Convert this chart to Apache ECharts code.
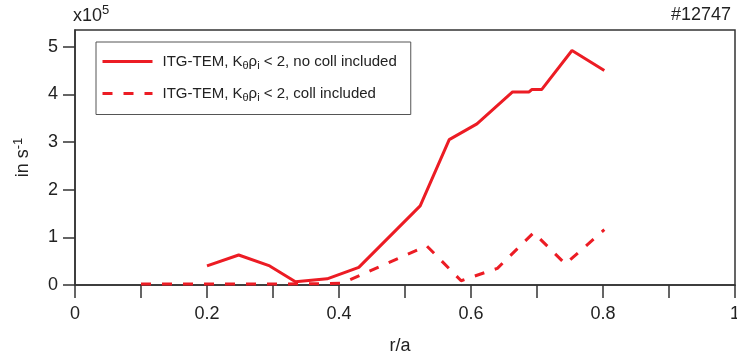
<!DOCTYPE html>
<html>
<head>
<meta charset="utf-8">
<script src="https://cdn.jsdelivr.net/npm/echarts@6/dist/echarts.min.js"></script>
<style>html,body{margin:0;padding:0;background:#fff}#c{width:737px;height:361px}</style>
</head>
<body>
<div id="c"></div>
<script>
// Data (y in units of 1e5 s^-1)
var noCollX = [0.200, 0.248, 0.295, 0.334, 0.382, 0.430, 0.523, 0.567, 0.609, 0.663, 0.688, 0.692, 0.707, 0.753, 0.802];
var noCollY = [0.40, 0.63, 0.40, 0.07, 0.13, 0.37, 1.66, 3.05, 3.38, 4.05, 4.05, 4.10, 4.10, 4.92, 4.50];
var collX = [0.100, 0.200, 0.300, 0.382, 0.405, 0.533, 0.585, 0.640, 0.695, 0.743, 0.802];
var collY = [0.02, 0.02, 0.02, 0.03, 0.04, 0.82, 0.09, 0.35, 1.10, 0.44, 1.16];
var xTicks = [0, 0.1, 0.2, 0.3, 0.4, 0.5, 0.6, 0.7, 0.8, 0.9, 1];
var xLabels = [0, 0.2, 0.4, 0.6, 0.8, 1];
var yTicks = [0, 1, 2, 3, 4, 5];

function pairs(xs, ys) { return xs.map(function (x, i) { return [x, ys[i]]; }); }

var FONT = 'Liberation Sans';
var RED = '#ec1c24';
var AX = '#333333';

var chart = echarts.init(document.getElementById('c'), null, { renderer: 'canvas' });
var legendRich = {
  a0: { fontFamily: FONT, fontSize: 15, color: '#222', lineHeight: 20, padding: [0, 0, 0, 5] },
  a: { fontFamily: FONT, fontSize: 15, color: '#222', lineHeight: 20 },
  s: { fontFamily: FONT, fontSize: 11, color: '#222', lineHeight: 12, verticalAlign: 'bottom' }
};
chart.setOption({
  animation: false,
  grid: { left: 75, right: 2, top: 30, bottom: 76, show: true, borderColor: AX, borderWidth: 1.5,
          backgroundColor: 'transparent', containLabel: false, outerBoundsMode: 'none' },
  legend: {
    orient: 'vertical', left: 96, top: 42,
    itemWidth: 50, itemHeight: 12, itemGap: 14.5,
    padding: [12, 14, 11, 5],
    borderColor: '#555', borderWidth: 1,
    itemStyle: { opacity: 0, borderWidth: 0 },
    lineStyle: { width: 3 },
    data: ['nocoll', 'coll'],
    formatter: function (n) {
      var tail = n === 'nocoll' ? ' < 2, no coll included' : ' < 2, coll included';
      return '{a0|ITG-TEM, K}{s|θ}{a|ρ}{s|i}{a|' + tail + '}';
    },
    textStyle: { rich: legendRich }
  },
  xAxis: {
    type: 'value', min: 0, max: 1,
    name: 'r/a', nameLocation: 'middle', nameGap: 52,
    nameTextStyle: { fontFamily: FONT, fontSize: 18, color: '#222', padding: [0, 10, 0, 0] },
    axisLine: { show: true, lineStyle: { color: AX, width: 1.5 } },
    axisTick: { show: true, inside: false, length: 13, customValues: xTicks, lineStyle: { color: AX, width: 1.5 } },
    axisLabel: { customValues: xLabels, margin: 20, fontFamily: FONT, fontSize: 18, color: '#222' },
    splitLine: { show: false }
  },
  yAxis: {
    type: 'value', min: 0, max: 5.35,
    name: '{a|in s}{sup|-1}', nameLocation: 'middle', nameGap: 41, nameRotate: 90,
    nameTextStyle: { rich: {
      a: { fontFamily: FONT, fontSize: 18, color: '#222', lineHeight: 22 },
      sup: { fontFamily: FONT, fontSize: 13, color: '#222', lineHeight: 13, verticalAlign: 'top' }
    } },
    axisLine: { show: true, lineStyle: { color: AX, width: 1.5 } },
    axisTick: { show: true, inside: false, length: 12, customValues: yTicks, lineStyle: { color: AX, width: 1.5 } },
    axisLabel: { customValues: yTicks, margin: 17, fontFamily: FONT, fontSize: 18, color: '#222' },
    splitLine: { show: false }
  },
  graphic: [
    { type: 'text', left: 73, top: 4, style: { rich: {
        a: { fontFamily: FONT, fontSize: 18, fill: '#222', lineHeight: 24 },
        sup: { fontFamily: FONT, fontSize: 13, fill: '#222', lineHeight: 14, verticalAlign: 'top' }
      }, text: '{a|x10}{sup|5}' } },
    { type: 'text', right: 6, top: 6, style: { text: '#12747', fontFamily: FONT, fontSize: 18, fill: '#222' } }
  ],
  series: [
    { name: 'nocoll', type: 'line', data: pairs(noCollX, noCollY), symbol: 'none',
      lineStyle: { color: RED, width: 3 }, itemStyle: { color: RED } },
    { name: 'coll', type: 'line', data: pairs(collX, collY), symbol: 'none',
      lineStyle: { color: RED, width: 3, type: [10, 11] }, itemStyle: { color: RED } }
  ]
});
</script>
</body>
</html>
